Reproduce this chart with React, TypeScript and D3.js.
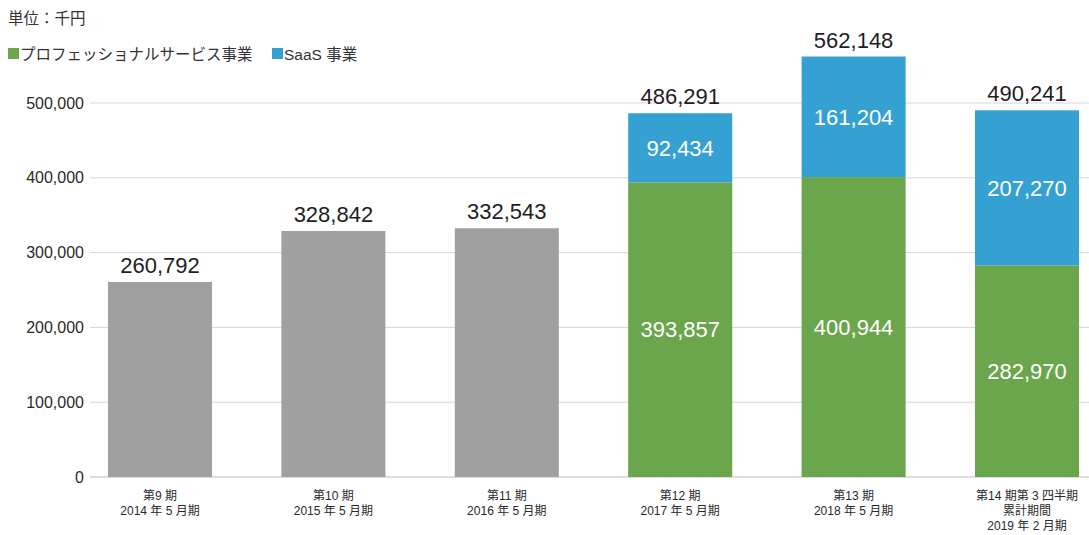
import React from "react";
import * as d3 from "d3";

const categories: string[][] = [
  ["第9 期", "2014 年 5 月期"],
  ["第10 期", "2015 年 5 月期"],
  ["第11 期", "2016 年 5 月期"],
  ["第12 期", "2017 年 5 月期"],
  ["第13 期", "2018 年 5 月期"],
  ["第14 期第 3 四半期", "累計期間", "2019 年 2 月期"],
];
const grayValues: (number | null)[] = [260792, 328842, 332543, null, null, null];
const proValues: (number | null)[] = [null, null, null, 393857, 400944, 282970];
const saasValues: (number | null)[] = [null, null, null, 92434, 161204, 207270];
const totalLabels: number[] = [260792, 328842, 332543, 486291, 562148, 490241];
const yTicks: number[] = [0, 100000, 200000, 300000, 400000, 500000];
const legendItems = ["プロフェッショナルサービス事業", "SaaS 事業"];

const W = 1089;
const H = 535;
const GRAY = "#a0a0a0";
const GREEN = "#6ba64d";
const BLUE = "#35a1d3";
const FONT = "'Liberation Sans', 'Noto Sans CJK JP', sans-serif";

export default function App() {
  const y = d3.scaleLinear().domain([0, 500000]).range([477, 103]);
  const x = d3
    .scaleBand<number>()
    .domain(categories.map((_, i) => i))
    .range([73.3, 1113.7])
    .paddingInner(0.4)
    .paddingOuter(0.2);
  const fmt = d3.format(",");
  const bw = x.bandwidth();

  return (
    <svg
      width={W}
      height={H}
      style={{ position: "absolute", left: 0, top: 0, background: "#fff" }}
      fontFamily={FONT}
    >
      <text x={8} y={24} fontSize={15.5} fill="#333">単位：千円</text>
      <rect x={8} y={48} width={11} height={11} fill={GREEN} />
      <text x={20} y={60} fontSize={15.5} fill="#333">{legendItems[0]}</text>
      <rect x={272} y={48} width={11} height={11} fill={BLUE} />
      <text x={284} y={60} fontSize={15.5} fill="#333">{legendItems[1]}</text>

      {yTicks.map((t) => (
        <g key={t}>
          <line x1={90} x2={W} y1={y(t)} y2={y(t)} stroke={t === 0 ? "#bbb" : "#d6d6d6"} strokeWidth={1} />
          <text x={84} y={y(t)} dy="0.35em" textAnchor="end" fontSize={16} fill="#2a2a2a">
            {fmt(t)}
          </text>
        </g>
      ))}

      {categories.map((c, i) => {
        const x0 = x(i)!;
        const cx = x0 + bw / 2;
        const marks: React.ReactNode[] = [];
        const g = grayValues[i];
        const p = proValues[i];
        const s = saasValues[i];
        if (g != null) {
          marks.push(<rect key="g" x={x0} y={y(g)} width={bw} height={y(0) - y(g)} fill={GRAY} />);
        }
        if (p != null) {
          marks.push(<rect key="p" x={x0} y={y(p)} width={bw} height={y(0) - y(p)} fill={GREEN} />);
          marks.push(
            <text key="pt" x={cx} y={(y(p) + y(0)) / 2} dy="0.35em" textAnchor="middle" fontSize={22} fill="#fff">
              {fmt(p)}
            </text>
          );
        }
        if (p != null && s != null) {
          marks.push(<rect key="s" x={x0} y={y(p + s)} width={bw} height={y(p) - y(p + s)} fill={BLUE} />);
          marks.push(
            <text key="st" x={cx} y={(y(p + s) + y(p)) / 2} dy="0.35em" textAnchor="middle" fontSize={22} fill="#fff">
              {fmt(s)}
            </text>
          );
        }
        const top = g != null ? g : (p ?? 0) + (s ?? 0);
        marks.push(
          <text key="tot" x={cx} y={y(top) - 9} textAnchor="middle" fontSize={22} fill="#1e1e1e">
            {fmt(totalLabels[i])}
          </text>
        );
        c.forEach((line, li) => {
          marks.push(
            <text key={"c" + li} x={cx} y={500 + li * 15} textAnchor="middle" fontSize={12} fill="#2a2a2a">
              {line}
            </text>
          );
        });
        return <g key={i}>{marks}</g>;
      })}
    </svg>
  );
}
